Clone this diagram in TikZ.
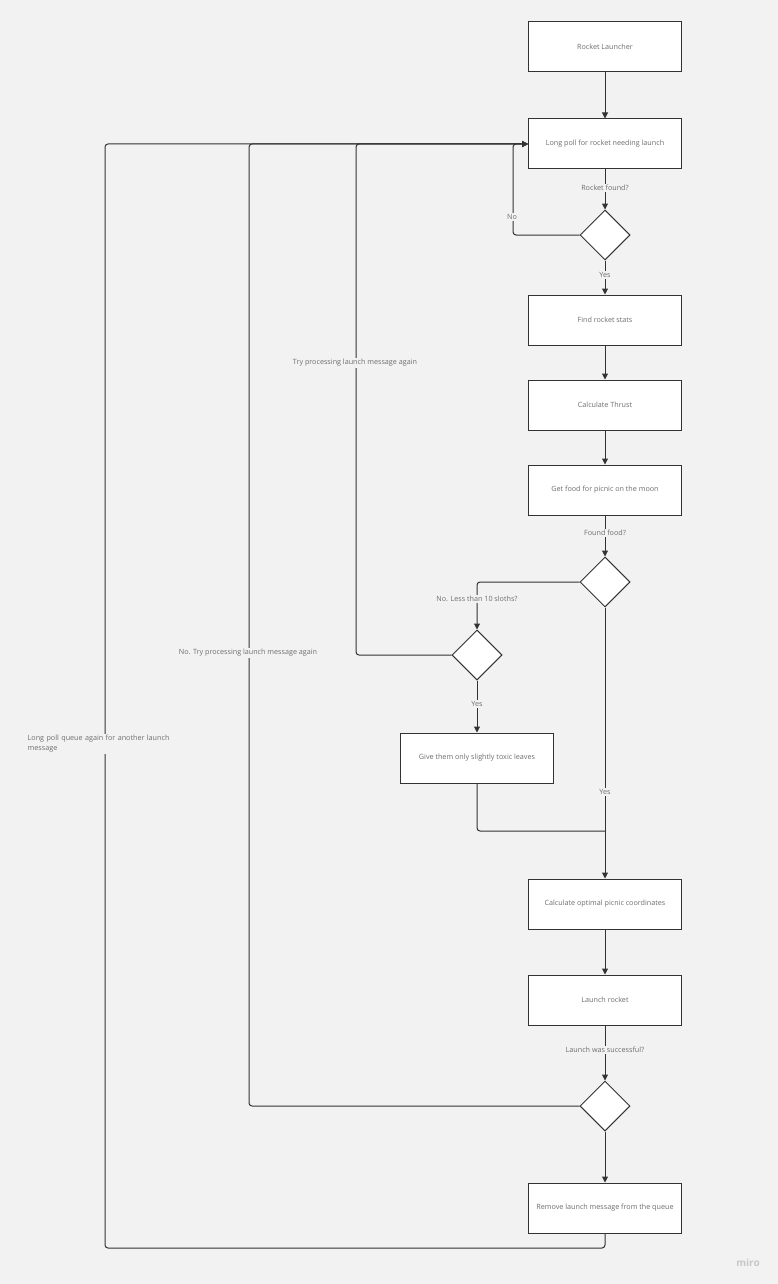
\documentclass[tikz,border=0pt]{standalone}
\usepackage{fontspec}
\setmainfont{Open Sans}
\usetikzlibrary{shapes.geometric,arrows.meta}
\definecolor{bg}{HTML}{F2F2F2}
\definecolor{ln}{HTML}{333333}
\definecolor{lbl}{HTML}{6E6E6E}
\begin{document}
\begin{tikzpicture}[x=1pt,y=-1pt,
  box/.style={draw=ln,line width=1pt,fill=white,minimum width=153pt,minimum height=50pt,inner sep=0pt,font=\fontsize{7.2}{9}\selectfont,text=lbl},
  dec/.style={draw=ln,line width=1pt,fill=white,diamond,minimum width=50pt,minimum height=50pt,inner sep=0pt},
  conn/.style={draw=ln,line width=1pt,rounded corners=3pt},
  arr/.style={conn,-{Triangle[length=6pt,width=6pt]}},
  lab/.style={fill=bg,inner sep=1.5pt,font=\fontsize{7.2}{9}\selectfont,text=lbl}]
\fill[bg] (0,0) rectangle (778,1284);
\useasboundingbox (0,0) rectangle (778,1284);
% nodes
\node[box] (rl) at (605,47) {Rocket Launcher};
\node[box] (lp) at (605,144) {Long poll for rocket needing launch};
\node[dec] (d1) at (605,235) {};
\node[box] (fr) at (605,320) {Find rocket stats};
\node[box] (ct) at (605,405) {Calculate Thrust};
\node[box] (gf) at (605,490) {Get food for picnic on the moon};
\node[dec] (d2) at (605,582) {};
\node[dec] (d3) at (477,655) {};
\node[box] (gl) at (477,758) {Give them only slightly toxic leaves};
\node[box] (co) at (605,904) {Calculate optimal picnic coordinates};
\node[box] (lr) at (605,1000) {Launch rocket};
\node[dec] (d4) at (605,1106) {};
\node[box] (rm) at (605,1208) {Remove launch message from the queue};
\coordinate (j1) at (605,831);
% connectors
\draw[arr] (rl) -- (lp);
\draw[arr] (lp) -- (d1);
\draw[arr] (d1.west) -- (513,235) -- (513,144) -- (lp.west);
\draw[arr] (d1) -- (fr);
\draw[arr] (fr) -- (ct);
\draw[arr] (ct) -- (gf);
\draw[arr] (gf) -- (d2);
\draw[arr] (d2.west) -- (477,582) -- (d3.north);
\draw[arr] (d3.west) -- (356,655) -- (356,144) -- (lp.west);
\draw[arr] (d3) -- (gl);
\draw[conn] (gl.south) -- (477,831) -- (j1);
\draw[arr] (d2.south) -- (co.north);
\draw[arr] (co) -- (lr);
\draw[arr] (lr) -- (d4);
\draw[arr] (d4.west) -- (249,1106) -- (249,144) -- (lp.west);
\draw[arr] (d4) -- (rm);
\draw[arr] (rm.south) -- (605,1248) -- (105,1248) -- (105,144) -- (lp.west);
% labels
\node[lab] (l1) at (605,188) {Rocket found?};
\node[lab] (l2) at (512,217) {No};
\node[lab] (l3) at (605,275) {Yes};
\node[lab] (l4) at (605,533) {Found food?};
\node[lab] (l5) at (477,599) {No. Less than 10 sloths?};
\node[lab] (l6) at (355,363) {Try processing launch message again};
\node[lab] (l7) at (477,704) {Yes};
\node[lab] (l8) at (605,792) {Yes};
\node[lab] (l9) at (605,1050) {Launch was successful?};
\node[lab] (l10) at (248,653) {No. Try processing launch message again};
\node[lab,anchor=west,align=left,text width=150pt,font=\fontsize{7.2}{10}\selectfont] (l11) at (26,744) {Long poll queue again for another launch\\message};
\node[font=\bfseries\fontsize{10}{11}\selectfont,text=black!22] (miro) at (748,1263) {miro};
\end{tikzpicture}
\end{document}
